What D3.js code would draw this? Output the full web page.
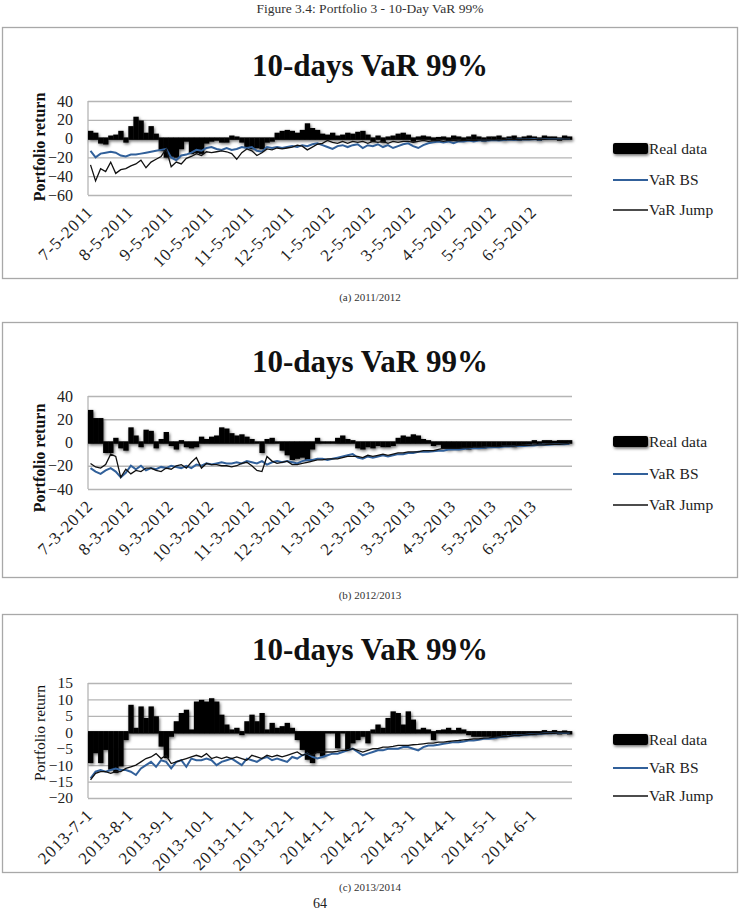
<!DOCTYPE html>
<html><head><meta charset="utf-8">
<script src="https://cdn.jsdelivr.net/npm/d3@7/dist/d3.min.js"></script>
<style>body{margin:0;background:#fff}svg{display:block}</style>
</head><body>
<script>
// ---------- DATA ----------
const pageCaption = "Figure 3.4: Portfolio 3 - 10-Day VaR 99%";
const chartTitle = "10-days VaR 99%";
const yLabel = "Portfolio return";
const seriesNames = ["Real data", "VaR BS", "VaR Jump"];
const subCaptions = ["(a) 2011/2012", "(b) 2012/2013", "(c) 2013/2014"];
const pageNumber = "64";

const ticks1 = ["7-5-2011","8-5-2011","9-5-2011","10-5-2011","11-5-2011","12-5-2011","1-5-2012","2-5-2012","3-5-2012","4-5-2012","5-5-2012","6-5-2012"];
const ticks2 = ["7-3-2012","8-3-2012","9-3-2012","10-3-2012","11-3-2012","12-3-2012","1-3-2013","2-3-2013","3-3-2013","4-3-2013","5-3-2013","6-3-2013"];
const ticks3 = ["2013-7-1","2013-8-1","2013-9-1","2013-10-1","2013-11-1","2013-12-1","2014-1-1","2014-2-1","2014-3-1","2014-4-1","2014-5-1","2014-6-1"];

const yTicks1 = [40,20,0,-20,-40,-60];
const yTicks2 = [40,20,0,-20,-40];
const yTicks3 = [15,10,5,0,-5,-10,-15,-20];

// 2011/2012 (8 observations per month)
const real1 = [
 7,5,-4,-5,2,3,7,-3,
 12,22,18,5,12,4,-12,-19,
 -18,-19,-10,-2,-15,-14,-15,-4,
 -2,-1,-3,-3,2,1,-3,-8,
 -10,-9,-10,-3,-2,5,7,8,
 7,5,8,15,10,8,4,3,
 5,2,3,5,4,6,7,3,
 -2,2,-3,1,2,4,5,3,
 -2,1,2,1,-1,0.5,1,-1,
 2,1,-1,1,3,1,-2,1,
 1,2,-1,1,2,-1,1,2,
 1,-1,2,1,1,-1,2,1];
const bs1 = [
 -13,-20,-16,-15,-14,-15,-18,-19,
 -17,-17,-16,-15,-14,-13,-12,-11,
 -20,-23,-18,-17,-15,-12,-13,-10,
 -9,-11,-12,-10,-12,-11,-9,-10,
 -9,-13,-14,-9,-10,-9,-10,-9,
 -8,-9,-7,-8,-6,-5,-7,-9,
 -11,-8,-7,-9,-7,-6,-10,-7,
 -8,-6,-9,-7,-10,-8,-6,-5,
 -8,-10,-7,-5,-4,-3,-4,-3,
 -5,-3,-3,-2,-3,-2,-2,-2,
 -1.5,-2,-1.5,-1,-1.5,-1,-1,-1,
 -0.5,-1,-0.5,-0.5,-0.5,-0.5,-0.3,-0.3];
const jump1 = [
 -28,-45,-32,-35,-25,-37,-33,-32,
 -29,-27,-23,-31,-25,-22,-19,-11,
 -30,-25,-27,-21,-19,-16,-18,-14,
 -15,-14,-13,-14,-16,-22,-15,-11,
 -13,-18,-15,-11,-12,-10,-11,-10,
 -9,-7,-8,-12,-9,-6,-5,-2,
 -4,-5,-3,-5,-3,-4,-3,-5,
 -3,-4,-3,-5,-3,-4,-3,-3,
 -4,-3,-2,-3,-2.5,-2,-3,-2,
 -2,-2.5,-2,-1.5,-2,-1.5,-1.5,-1.5,
 -1,-1.5,-1,-1,-1,-1,-0.8,-1,
 -0.8,-0.6,-0.7,-0.5,-0.6,-0.5,-0.4,-0.4];

// 2012/2013
const real2 = [
 27,20,20,-8,-8,3,-4,-6,
 12,5,-3,10,9,-4,2,8,
 -2,-5,1,-3,-4,-3,4,2,
 4,5,12,11,7,5,6,4,
 2,0,-8,2,3,0,-6,-10,
 -14,-13,-12,-14,-5,3,0,0,
 0,3,5,2,1,-4,-5,-3,
 -4,-2,-3,-3,-2,3,5,4,
 6,5,2,1,-2,-1,-4,-5,
 -4,-5,-4,-5,-3,-4,-4,-3,
 -2,-3,-2,-2,-3,-2,-1,-1,
 1,-1,1,1,0.5,1,1,1];
const bs2 = [
 -22,-25,-27,-24,-22,-25,-30,-26,
 -20,-23,-20,-24,-22,-23,-21,-22,
 -20,-21,-22,-20,-22,-19,-20,-18,
 -19,-18,-17,-18,-18,-17,-18,-16,
 -17,-18,-16,-19,-17,-16,-17,-16,
 -17,-18,-16,-15,-15,-14,-14,-15,
 -14,-13,-12,-11,-10,-13,-14,-12,
 -13,-12,-11,-12,-11,-10,-10,-9,
 -9,-8,-8,-8,-7.5,-7,-7,-6,
 -6,-6,-5.5,-5,-5,-5,-4.5,-4,
 -4,-4,-3.5,-3.5,-3,-3,-3,-2.5,
 -2.5,-2,-2,-2,-1.5,-1.5,-1.5,-1];
const jump2 = [
 -18,-21,-22,-19,-10,-12,-30,-23,
 -27,-24,-25,-22,-22,-24,-25,-22,
 -23,-20,-19,-22,-17,-13,-22,-18,
 -19,-19,-20,-20,-21,-20,-18,-17,
 -20,-24,-25,-12,-16,-18,-17,-16,
 -19,-19,-18,-17,-16,-15,-15,-14,
 -14,-14,-13,-12,-12,-12,-13,-11,
 -12,-11,-10,-11,-10,-9,-9,-8,
 -8,-8,-7,-7,-7,-6,-5,-5,
 -5,-5,-4.5,-4.5,-4,-4,-4,-3.5,
 -3.5,-3.5,-3,-3,-3,-2.5,-2.5,-2.5,
 -2,-2,-2,-1.5,-1.5,-1.5,-1.2,-1];

// 2013/2014
const real3 = [
 -9,-6,-9,-5,-11,-12,-10,-2,
 8,1,7.5,4,7.5,4.5,-4,-7.5,
 -1,3,5.5,6.5,0.5,9,9.5,9,
 10,9,5,2,0.5,1,-0.5,3,
 5,3,5.5,0.5,2.5,1,1.5,2.5,
 1,-2,-5,-8,-9,-6,-7,0,
 0,-4.5,0,-5,-3,-2,-1,-3,
 0.5,2,1,4,6,5.5,2,6,
 3.5,0.5,1,0.5,-2,0.3,0.5,1,
 0.3,1,0.5,-0.5,-1,-1,-1,-1,
 -1.5,-1,-1,-0.5,-0.5,-0.5,-0.5,-0.3,
 -0.5,-0.3,0.3,-0.2,0.3,-0.3,0.2,-0.3];
const bs3 = [
 -14,-12,-11.5,-12,-11.5,-11,-11.5,-11.5,
 -12,-13,-11,-10,-9,-10.5,-8.5,-9,
 -11,-9,-8.5,-10.5,-8,-8.5,-8.5,-8,
 -8.5,-10,-9,-8.5,-8,-9,-10,-8,
 -8.5,-9,-8,-7.5,-8.5,-8,-8.5,-9,
 -7.5,-8,-7,-6.5,-7.5,-8,-7.5,-7,
 -6.5,-6.5,-6,-5.5,-5,-6,-7,-6.5,
 -6,-5.5,-5.5,-5,-5,-5,-4.5,-4.5,
 -5,-5.5,-4.5,-4,-4,-3.8,-3.5,-3.3,
 -3,-3,-2.8,-2.5,-2.5,-2.3,-2,-2,
 -1.8,-1.5,-1.3,-1.2,-1,-1,-0.8,-0.7,
 -0.6,-0.5,-0.4,-0.3,-0.3,-0.2,-0.2,-0.2];
const jump3 = [
 -14.5,-12.5,-12,-12,-12.5,-12,-12,-11,
 -10.5,-10,-9,-8,-7.5,-6.5,-8,-7,
 -9.5,-9,-8.5,-8,-7.5,-7,-7.5,-6.5,
 -8,-7.5,-8,-7.5,-8,-7.5,-8,-8.5,
 -7,-7.5,-8,-7,-7.5,-7,-7.5,-7,
 -6.5,-6,-7,-6.5,-7,-6,-6,-6,
 -6,-5.8,-5.5,-5.5,-5,-5.5,-6,-5.5,
 -5,-5,-4.5,-4.5,-4.3,-4,-4,-4,
 -3.8,-3.7,-3.5,-3.3,-3.3,-3,-3,-2.8,
 -2.6,-2.5,-2.3,-2.2,-2,-2,-1.8,-1.7,
 -1.5,-1.4,-1.3,-1.2,-1,-1,-0.8,-0.7,
 -0.6,-0.5,-0.4,-0.3,-0.3,-0.2,-0.2,-0.2];

// ---------- DRAWING ----------
const W = 741, H = 912;
const SERIF = "'Liberation Serif','DejaVu Serif',serif";
const BLUE = "#31609a";
const GRID = "#b5b5b5";

const svg = d3.select("body").append("svg").attr("width", W).attr("height", H);
const defs = svg.append("defs");
const f = defs.append("filter").attr("id","sh").attr("x","-10%").attr("y","-40%").attr("width","120%").attr("height","180%");
f.append("feDropShadow").attr("dx",1).attr("dy",1.5).attr("stdDeviation",1.6).attr("flood-color","#000").attr("flood-opacity",0.6);

svg.append("text").attr("x", 370).attr("y", 13).attr("text-anchor","middle")
  .attr("font-family", SERIF).attr("font-size", 13.5).attr("fill","#333").text(pageCaption);

const panels = [
  {boxTop:27, boxBottom:278, titleY:76, plotTop:101, plotBottom:195, domain:[-60,40], yTicks:yTicks1,
   real:real1, bs:bs1, jump:jump1, ticks:ticks1, ylabY:147, ylabSize:16, ylabW:"bold", tickSize:16, legY:[149,180,210], capY:301},
  {boxTop:322, boxBottom:577, titleY:372, plotTop:396, plotBottom:489, domain:[-40,40], yTicks:yTicks2,
   real:real2, bs:bs2, jump:jump2, ticks:ticks2, ylabY:458, ylabSize:16, ylabW:"bold", tickSize:16, legY:[442,474,505], capY:599},
  {boxTop:614, boxBottom:872, titleY:660, plotTop:683, plotBottom:798, domain:[-20,15], yTicks:yTicks3,
   real:real3, bs:bs3, jump:jump3, ticks:ticks3, ylabY:733, ylabSize:15.5, ylabW:"normal", tickSize:15.5, legY:[740,768,796], capY:891}
];

panels.forEach((p, pi) => {
  const g = svg.append("g");
  g.append("rect").attr("x", 2.5).attr("y", p.boxTop + 0.5).attr("width", 735).attr("height", p.boxBottom - p.boxTop)
    .attr("fill","#fff").attr("stroke","#a8a8a8").attr("stroke-width", 1.3);
  g.append("text").attr("x", 370).attr("y", p.titleY).attr("text-anchor","middle")
    .attr("font-family", SERIF).attr("font-weight","bold").attr("font-size", 31).attr("fill","#111").text(chartTitle);

  const n = p.real.length;
  const x = d3.scaleBand().domain(d3.range(n)).range([88, 572]).padding(0);
  const y = d3.scaleLinear().domain(p.domain).range([p.plotBottom, p.plotTop]);

  // grid + y axis labels
  const ax = g.append("g").attr("transform","translate(88,0)")
    .call(d3.axisLeft(y).tickValues(p.yTicks).tickSize(-484).tickPadding(15).tickFormat(d3.format("d")));
  ax.select(".domain").remove();
  ax.selectAll(".tick line").attr("stroke", GRID).attr("stroke-width", 1.3);
  ax.selectAll(".tick text").attr("font-family", SERIF).attr("font-size", p.tickSize).attr("fill","#222");
  g.append("line").attr("x1",88).attr("x2",88).attr("y1",p.plotTop).attr("y2",p.plotBottom)
    .attr("stroke", GRID).attr("stroke-width", 1.3);

  // bars (Real data)
  g.append("g").attr("filter","url(#sh)").selectAll("rect").data(p.real).join("rect")
    .attr("x", (d,i) => x(i)).attr("width", x.bandwidth() + 0.3)
    .attr("y", d => y(Math.max(0,d)) - 1.2)
    .attr("height", d => Math.abs(y(d) - y(0)) + 2.4)
    .attr("fill","#000");

  const line = d3.line().x((d,i) => x(i) + x.bandwidth()/2).y(d => y(d));
  g.append("path").datum(p.bs).attr("d", line).attr("fill","none").attr("stroke", BLUE).attr("stroke-width", 2);
  g.append("path").datum(p.jump).attr("d", line).attr("fill","none").attr("stroke", "#111").attr("stroke-width", 1.3);

  // x tick labels, one per month
  const per = n / p.ticks.length;
  g.append("g").selectAll("text").data(p.ticks).join("text")
    .attr("transform", (d,i) => `translate(${x(Math.round(i*per)) + 6},${p.plotBottom + 18}) rotate(-45)`)
    .attr("text-anchor","end").attr("font-family", SERIF).attr("font-size", 17).attr("letter-spacing", 0.9)
    .attr("fill","#222").text(d => d);

  // y axis title
  g.append("text").attr("transform", `translate(45,${p.ylabY}) rotate(-90)`).attr("text-anchor","middle")
    .attr("font-family", SERIF).attr("font-weight", p.ylabW).attr("font-size", p.ylabSize).attr("fill","#111").text(yLabel);

  // legend
  const lg = g.append("g");
  lg.append("rect").attr("x", 613).attr("y", p.legY[0] - 6).attr("width", 35).attr("height", 11).attr("rx", 2)
    .attr("fill","#000").attr("filter","url(#sh)");
  lg.append("line").attr("x1",613).attr("x2",648).attr("y1",p.legY[1]).attr("y2",p.legY[1]).attr("stroke",BLUE).attr("stroke-width",2);
  lg.append("line").attr("x1",613).attr("x2",648).attr("y1",p.legY[2]).attr("y2",p.legY[2]).attr("stroke","#111").attr("stroke-width",1.3);
  lg.selectAll("text").data(seriesNames).join("text")
    .attr("x", 649).attr("y", (d,i) => p.legY[i] + 5)
    .attr("font-family", SERIF).attr("font-size", 15.5).attr("fill","#222").text(d => d);

  svg.append("text").attr("x", 370).attr("y", p.capY).attr("text-anchor","middle")
    .attr("font-family", SERIF).attr("font-size", 11).attr("fill","#333").text(subCaptions[pi]);
});

svg.append("text").attr("x", 320).attr("y", 908).attr("text-anchor","middle")
  .attr("font-family", SERIF).attr("font-size", 14).attr("fill","#222").text(pageNumber);
</script>
</body></html>
